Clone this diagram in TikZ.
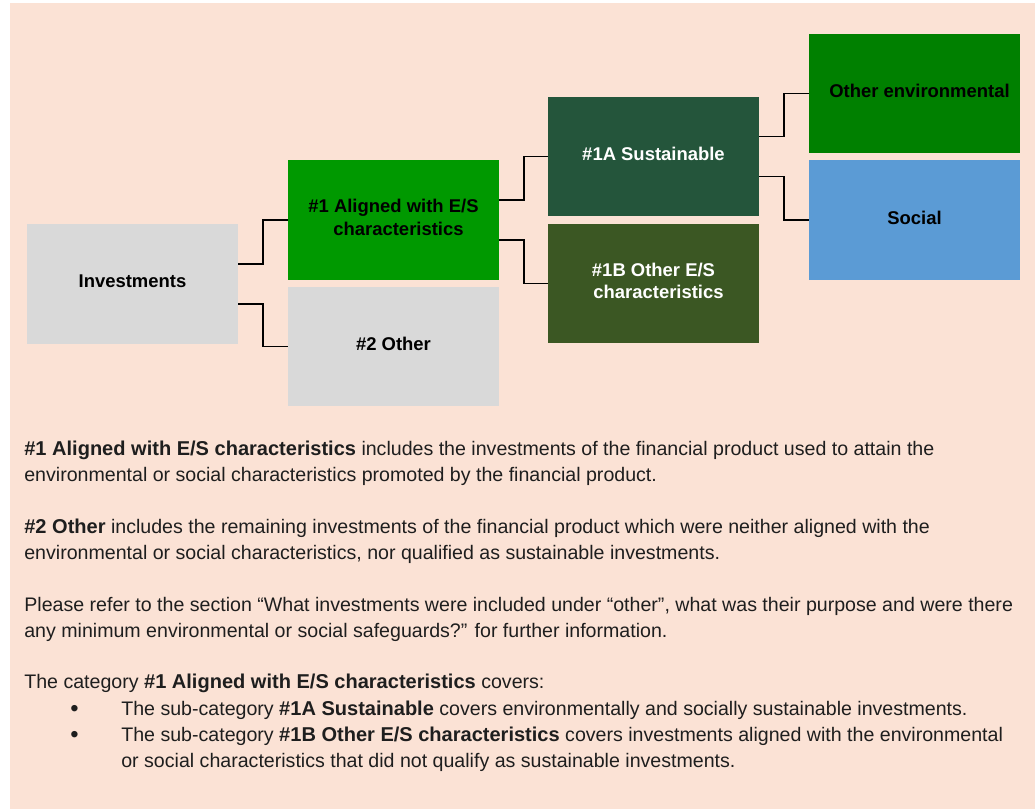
\documentclass[tikz,border=0pt]{standalone}
\usepackage{fontspec}
\setmainfont{Liberation Sans}
\usetikzlibrary{positioning}
\definecolor{peach}{HTML}{FBE2D5}
\definecolor{boxgrey}{HTML}{D9D9D9}
\definecolor{esgreen}{HTML}{009900}
\definecolor{susgreen}{HTML}{24553B}
\definecolor{olivegreen}{HTML}{3B5723}
\definecolor{envgreen}{HTML}{008000}
\definecolor{socblue}{HTML}{5B9BD5}
\definecolor{bodytext}{HTML}{1E1E1E}
\newcommand{\keyterm}[1]{{\fontsize{11.4}{14.74}\selectfont\bfseries #1}}

\begin{document}
\begin{tikzpicture}[x=0.02cm, y=-0.02cm,
	cat/.style={minimum width=4.22cm, minimum height=2.4cm, inner sep=0pt, align=center,
		text depth=0.3em, font=\bfseries\fontsize{10.5}{12.8}\selectfont},
	link/.style={line width=1.1pt, black},
	para/.style={anchor=base west, align=left, inner sep=0pt, text=bodytext,
		font=\fontsize{11.15}{14.74}\selectfont},
	dot/.style={para, font=\fontsize{13.5}{14.74}\selectfont}]
	\useasboundingbox (0,0) rectangle (1035,809);
	\fill[peach] (10,3) rectangle (1035,809);
	%
	\node[cat, fill=boxgrey] (inv) at (132.5,284) {Investments};
	\node[cat, fill=esgreen] (al) at (393.5,220) {\#1 Aligned with E/S\\\hspace{0.2cm}characteristics};
	\node[cat, fill=boxgrey] (oth) at (393.5,346.5) {\#2 Other};
	\node[cat, fill=susgreen, text=white] (sus) at (653.5,156.5) {\#1A Sustainable};
	\node[cat, fill=olivegreen, text=white] (oes) at (653.5,283.5) {\#1B Other E/S\\\hspace{0.2cm}characteristics};
	\node[cat, fill=envgreen] (env) at (914.5,93.5) {\hspace{0.2cm}Other environmental};
	\node[cat, fill=socblue] (soc) at (914.5,220) {Social};
	%
	\draw[link] ([yshift=0.4cm]inv.east) -- ++(0.5cm,0) |- (al.west);
	\draw[link] ([yshift=-0.4cm]inv.east) -- ++(0.5cm,0) |- (oth.west);
	\draw[link] ([yshift=0.4cm]al.east) -- ++(0.5cm,0) |- (sus.west);
	\draw[link] ([yshift=-0.4cm]al.east) -- ++(0.5cm,0) |- (oes.west);
	\draw[link] ([yshift=0.4cm]sus.east) -- ++(0.5cm,0) |- (env.west);
	\draw[link] ([yshift=-0.4cm]sus.east) -- ++(0.5cm,0) |- (soc.west);
	%
	% multi-line nodes sit on the baseline of their last line
	\node[para] (p1) at (24,481) {\keyterm{\#1 Aligned with E/S characteristics} includes the investments of the financial product used to attain the\\
		environmental or social characteristics promoted by the financial product.};
	\node[para] (p2) at (24,559) {\keyterm{\#2 Other} includes the remaining investments of the financial product which were neither aligned with the\\
		environmental or social characteristics, nor qualified as sustainable investments.};
	\node[para] (p3) at (24,637) {Please refer to the section “What investments were included under “other”, what was their purpose and were there\\
		any minimum environmental or social safeguards?” for further information.};
	\node[para] (p4) at (24,688) {The category \keyterm{\#1 Aligned with E/S characteristics} covers:};
	\node[dot] (b1) at (70,716) {\textbullet};
	\node[para] (i1) at (121,715) {The sub-category \keyterm{\#1A Sustainable} covers environmentally and socially sustainable investments.};
	\node[dot] (b2) at (70,742) {\textbullet};
	\node[para] (i2) at (121,767) {The sub-category \keyterm{\#1B Other E/S characteristics} covers investments aligned with the environmental\\
		or social characteristics that did not qualify as sustainable investments.};
\end{tikzpicture}
\end{document}
